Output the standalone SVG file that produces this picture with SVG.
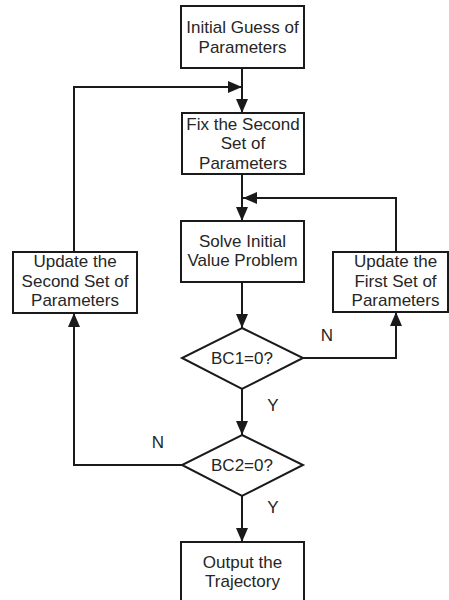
<svg xmlns="http://www.w3.org/2000/svg" width="449" height="600" viewBox="0 0 449 600">
<style>
.box{fill:#fff;stroke:#1a1a1a;stroke-width:2}
.ln{fill:none;stroke:#1a1a1a;stroke-width:2}
text{font-family:"Liberation Sans",Arial,sans-serif;font-size:17px;fill:#262626;text-anchor:middle}
</style>
<defs>
<marker id="ah" markerUnits="userSpaceOnUse" markerWidth="16" markerHeight="14" refX="14" refY="6" orient="auto">
<path d="M0,0 L14,6 L0,12 Z" fill="#1a1a1a"/>
</marker>
</defs>
<rect width="449" height="600" fill="#fff"/>
<g id="connectors">
<path class="ln" d="M242,68 V113" marker-end="url(#ah)"/>
<path class="ln" d="M74,252 V87 H242" marker-end="url(#ah)"/>
<path class="ln" d="M242,174 V221" marker-end="url(#ah)"/>
<path class="ln" d="M396,252 V198 H243" marker-end="url(#ah)"/>
<path class="ln" d="M242,282 V328" marker-end="url(#ah)"/>
<path class="ln" d="M303,358 H396 V312" marker-end="url(#ah)"/>
<path class="ln" d="M242,389 V435" marker-end="url(#ah)"/>
<path class="ln" d="M182,465 H74 V313" marker-end="url(#ah)"/>
<path class="ln" d="M242,496 V542" marker-end="url(#ah)"/>
<text x="327" y="341">N</text>
<text x="273" y="411">Y</text>
<text x="158" y="448">N</text>
<text x="273" y="513">Y</text>
</g>
<g id="initial">
<rect class="box" x="181" y="6" width="123" height="62"/>
<text x="242.5" y="33.3">Initial Guess of</text>
<text x="242.5" y="53.3">Parameters</text>
</g>
<g id="fix">
<rect class="box" x="182" y="113" width="122" height="61"/>
<text x="243" y="129.5">Fix the Second</text>
<text x="243" y="149">Set of</text>
<text x="243" y="168.5">Parameters</text>
</g>
<g id="solve">
<rect class="box" x="181" y="221" width="123" height="61"/>
<text x="242.5" y="246.7">Solve Initial</text>
<text x="242.5" y="266">Value Problem</text>
</g>
<g id="update2">
<rect class="box" x="13" y="252" width="124" height="61"/>
<text x="75" y="266.7">Update the</text>
<text x="75" y="286.5">Second Set of</text>
<text x="75" y="305.5">Parameters</text>
</g>
<g id="update1">
<rect class="box" x="333" y="252" width="115" height="60"/>
<text x="395.5" y="266.7">Update the</text>
<text x="395.5" y="286.5">First Set of</text>
<text x="395.5" y="305.5">Parameters</text>
</g>
<g id="bc1">
<polygon class="box" points="242,328 303,358 242,389 182,358"/>
<text x="242" y="364">BC1=0?</text>
</g>
<g id="bc2">
<polygon class="box" points="242,435 303,465 242,496 182,465"/>
<text x="242" y="471">BC2=0?</text>
</g>
<g id="output">
<rect class="box" x="181" y="542" width="123" height="62"/>
<text x="242.5" y="567.7">Output the</text>
<text x="242.5" y="586.7">Trajectory</text>
</g>
</svg>
